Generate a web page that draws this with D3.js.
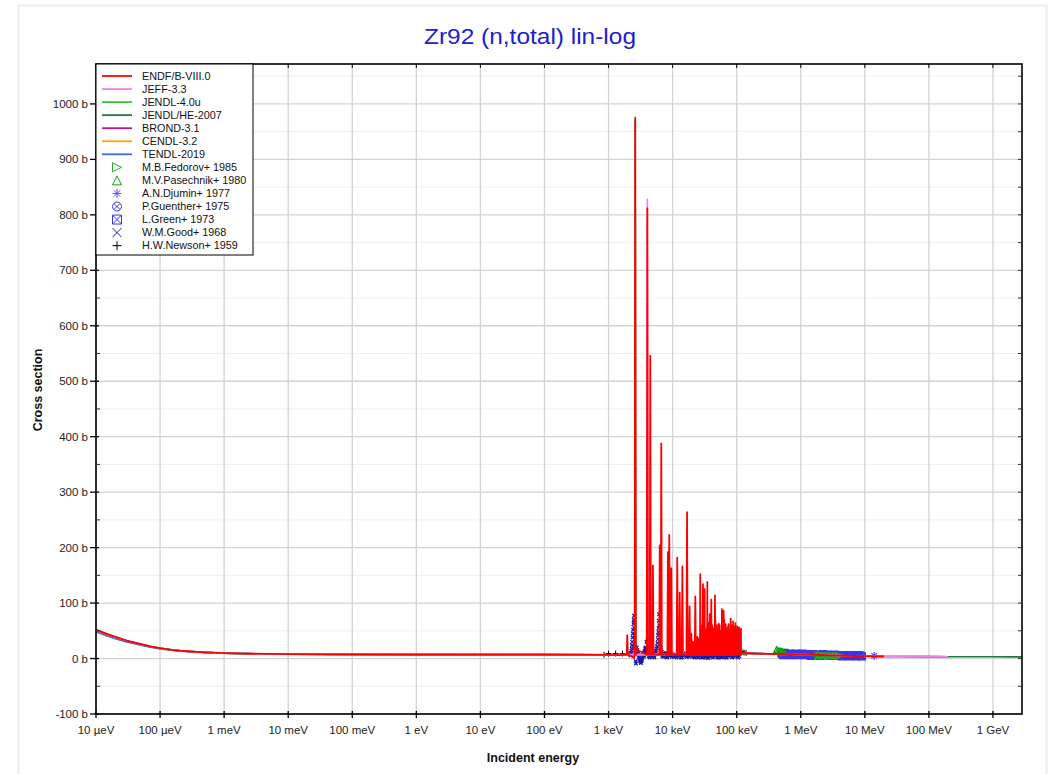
<!DOCTYPE html>
<html><head><meta charset="utf-8">
<script src="https://cdn.jsdelivr.net/npm/d3@7"></script>
<style>
body{margin:0;background:#fff;}
text{font-family:"Liberation Sans",Arial,Helvetica,sans-serif;}
</style>
</head><body>
<svg id="c" width="1053" height="774"></svg>
<script>
// ---------------- DATA ----------------
const chartTitle = "Zr92 (n,total) lin-log";
const xAxisTitle = "Incident energy";
const yAxisTitle = "Cross section";

const xTickValues = [1e-5,1e-4,1e-3,1e-2,1e-1,1,10,100,1e3,1e4,1e5,1e6,1e7,1e8,1e9];
const xTickLabels = ["10 µeV","100 µeV","1 meV","10 meV","100 meV","1 eV","10 eV","100 eV","1 keV","10 keV","100 keV","1 MeV","10 MeV","100 MeV","1 GeV"];
const yTickValues = [-100,0,100,200,300,400,500,600,700,800,900,1000];
const yTickLabels = ["-100 b","0 b","100 b","200 b","300 b","400 b","500 b","600 b","700 b","800 b","900 b","1000 b"];

// low-energy grid (eV) and values (b)
const lowE      = [1e-5,1.5e-5,2e-5,3e-5,5e-5,7e-5,1e-4,1.5e-4,2e-4,3e-4,5e-4,7e-4,1e-3,2e-3,5e-3,1e-2,3e-2,0.1,1,10,100,1000];
const endfLow   = [52,44,39,32.5,26,22,18.6,15.8,14.3,12.7,11.2,10.5,9.9,9.0,8.3,7.9,7.6,7.4,7.2,7.1,7.0,6.6];
const jeffLow   = [52,44,39,32.5,26,22,18.6,15.8,14.3,12.7,11.2,10.5,9.9,9.0,8.3,7.9,7.6,7.4,7.2,7.1,7.0,6.6];
const jendlLow  = [51.5,43.6,38.6,32.2,25.8,21.8,18.5,15.7,14.2,12.6,11.1,10.4,9.8,9.0,8.3,7.9,7.6,7.4,7.2,7.1,7.0,6.6];
const brondLow  = [51.5,43.6,38.6,32.2,25.8,21.8,18.5,15.7,14.2,12.6,11.1,10.4,9.8,9.0,8.3,7.9,7.6,7.4,7.2,7.1,7.0,6.6];
const cendlLow  = [51,43.2,38.3,32,25.6,21.6,18.4,15.6,14.1,12.5,11.1,10.4,9.8,9.0,8.3,7.9,7.6,7.4,7.2,7.1,7.0,6.6];
const tendlLow  = [48,40.5,35.8,30,24.2,20.6,17.4,14.9,13.6,12.1,10.8,10.1,9.6,8.8,8.2,7.8,7.5,7.3,7.1,7.0,6.9,6.5];

// resonance-region background points (eV) for ENDF/B-VIII.0
const midE      = [1500,2300,2500,2720,3000,3500,5500,7500,10500,20000,120000];
const endfMid   = [6.3,4,1,20,14,10,7,9,8,7,9.5];

// resolved resonances (keV) and peak heights (b) for ENDF/B-VIII.0
const resE    = [1.96,2.61,4.03,4.48,4.93,6.30,6.65,8.45,8.87,9.54,11.8,12.9,14.2,16.8,18.4,19.6,20.8,22.6,24.5,25.5,
                 27.0,28.4,29.8,31.6,33.2,34.8,36.3,37.9,40.1,42.8,45.8,47.3,49.1,50.9,52.8,55.6,58.8,60.6,62.6,64.9,
                 67.3,70.1,73.2,76.8,80.5,84.1,87.7,91.4,95.3,98.7,102,105.4,108.9,112.7,116.7,
                 26.2,27.7,30.7,32.4,34.0,35.5,37.1,39.0,41.4,44.2,46.5,48.2,50.0,51.8,54.2,57.2,59.7,61.6,63.8,66.1,
                 68.7,71.6,74.9,78.6,82.3,85.9,89.5,93.3,97.0,100.3,103.7,107.1,110.8,114.7];
const resPeak = [42,972,812,546,168,204,388,192,223,163,182,119,166,264,94,45,30,112,39,35,
                 152,45,134,125,50,138,40,80,106,55,114,48,60,40,62,50,89,45,86,60,
                 62,50,58,45,72,55,67,50,64,45,58,48,56,40,54,
                 30,60,70,40,55,65,45,50,60,40,70,35,55,45,60,40,55,50,70,45,
                 55,48,62,50,60,48,58,50,55,46,52,45,50,42];
const resFloor = 7;

// resonances where other libraries stick out above ENDF (keV, b)
const jeffResE = [4.03], jeffResPeak = [828];
const jendlheResE = [2.61], jendlheResPeak = [976];
const brondResE = [52.0,87.0], brondResPeak = [63,60];

// high-energy grid (eV) and values (b); null = library ends
const highE     = [1.2e5,1.5e5,2e5,3e5,5e5,7e5,1e6,1.5e6,2e6,3e6,5e6,7e6,1e7,1.4e7,2e7,3e7,5e7,1e8,1.5e8,2e8,3e8,5e8,1e9,2e9,2.84e9];
const endfHigh  = [9.5,9.5,9,8.5,8.2,7.8,7.3,6.8,6.4,5.8,5.0,4.6,4.2,4.0,3.8,null,null,null,null,null,null,null,null,null,null];
const jeffHigh  = [9.5,9.5,9,8.5,8.2,7.8,7.3,6.8,6.4,5.8,5.0,4.6,4.2,4.0,3.8,3.7,3.6,3.5,3.4,3.3,null,null,null,null,null];
const jendlHigh = [9.4,9.4,9,8.5,8.1,7.7,7.2,6.7,6.3,5.7,4.9,4.5,4.2,4.0,3.8,null,null,null,null,null,null,null,null,null,null];
const jendlheHigh=[9.4,9.4,9,8.5,8.1,7.7,7.2,6.7,6.3,5.7,4.9,4.5,4.2,4.0,3.8,3.7,3.6,3.5,3.4,3.3,3.3,3.2,3.1,3.0,3.0];
const brondHigh = [9.6,9.6,9.1,8.6,8.2,7.8,7.3,6.8,6.4,5.8,5.0,4.6,4.2,4.0,3.8,null,null,null,null,null,null,null,null,null,null];
const cendlHigh = [9.5,9.5,9,8.5,8.2,7.8,7.3,6.8,6.4,5.8,5.0,4.6,4.2,4.0,3.8,null,null,null,null,null,null,null,null,null,null];
const tendlHigh = [9.3,9.3,8.9,8.4,8.0,7.6,7.1,6.6,6.2,5.6,4.9,4.5,4.1,3.9,3.7,3.6,3.5,3.4,3.3,3.2,null,null,null,null,null];

// experimental data
const fedorovE  = [1.85e6,1.95e6,2.05e6,2.15e6,2.25e6,2.35e6,2.5e6,2.65e6,2.8e6,2.95e6,3.1e6,3.3e6,3.5e6,3.7e6,3.9e6,4.05e6];
const fedorovXS = [5,6,4.5,5.5,4,5,6,4.5,5,4,5.5,4.8,5.2,4.2,5.5,4.8];
const pasechE   = [4.2e5,4.4e5,4.6e5,4.8e5,5.0e5,5.2e5,5.5e5];
const pasechXS  = [16,14.5,13.5,13,12.5,12,11.5];
const djuminE   = [1.4e7];
const djuminXS  = [4.8];
const guentherE = [5.5e5,6.5e5,7.5e5,8.5e5,1e6,1.15e6,1.3e6,1.5e6,1.7e6,2e6,2.3e6,2.6e6,3e6,3.5e6,4e6];
const guentherXS= [9,8,8.5,7.5,7,8,6.8,7.5,6.5,6,7,6.5,5.8,6,5.5];
const greenE    = [5e5,5.3e5,5.6e5,6e5,6.3e5,6.7e5,7e5,7.5e5,8e5,8.5e5,9e5,9.5e5,1e6,1.07e6,1.15e6,1.25e6,1.35e6,1.45e6,1.55e6,1.7e6,1.85e6,2e6,2.2e6,2.4e6,2.6e6,2.85e6,3.1e6,3.4e6,3.7e6,4e6,4.4e6,4.8e6,5.2e6,5.7e6,6.2e6,6.8e6,7.4e6,8e6,8.5e6,9e6];
const greenXS   = [9,6,10,7,8,9,6,8,7,9,6,8,7,9,6,8,7,5,8,6,7,5,8,6,7,5,6,7,5,6,4,6,5,4,6,5,4,6,5,4];
const goodE     = [2.22,2.25,2.28,2.3,2.32,2.35,2.37,2.4,2.42,2.45,2.47,2.5,2.51,2.52,2.54,2.55,2.57,2.58,2.6,2.65,
                   2.68,2.7,2.75,2.8,2.85,2.9,2.95,3.0,3.05,3.1,3.15,3.2,3.25,3.3,3.35,3.4,3.45,3.5,3.55,3.6,
                   3.65,3.7,3.75,3.8,3.85,3.9,3.95,4.05,4.1,4.15,4.2,4.25,4.3,4.4,4.6,4.7,4.8,5.0,5.1,5.2,
                   5.3,5.4,5.5,5.6,5.7,5.8,5.9,5.95,6.0,6.05,6.1,6.15,6.2,6.25,6.35,6.5,6.6,6.8,6.9,7.0,
                   7.15,7.3,7.45,7.6,7.8,8.0,8.15,8.3,8.6,9.0,9.3,9.7,10,10.5,11,11.5,12,12.5,13,13.5,
                   14,14.5,15,16,16.5,17,18,19,20,21,22,23,24,25,26,27,28,29,30,31.5,
                   33,34.5,36,38,40,42,44,46,48,50,52,54,56,58,60,62,65,68,70,75,
                   80,85,90,95,100,105,110].map(v=>v*1e3);
const goodXS    = [6,10,14,18,24,30,38,45,52,62,70,77,66,55,42,35,26,20,10,-5,
                   -9,12,20,15,10,8,5,2,-2,-4,-6,-8,-5,-3,0,4,7,10,3,6,
                   12,14,18,20,16,30,12,34,8,18,12,4,5,2,6,3,10,7,4,2,
                   8,11,14,18,22,28,35,42,48,55,68,80,60,45,30,20,10,12,5,6,
                   3,10,6,4,9,8,2,3,6,5,10,3,6,3,8,2,4,6,7,2,
                   2,5,6,9,3,4,3,5,6,3,2,4,5,2,3,5,6,2,2,4,
                   4,2,1,4,5,2,3,5,6,2,2,4,5,2,3,5,4,2,2,4,
                   5,2,3,5,6,2,4];
const newsonE   = [8.5e2,1.0e3,1.29e3,1.65e3,2.1e3,1.12e5,1.2e5,1.3e5,1.4e5];
const newsonXS  = [7,9,9,9,8,12,13,11,10];

const libNames  = ["ENDF/B-VIII.0","JEFF-3.3","JENDL-4.0u","JENDL/HE-2007","BROND-3.1","CENDL-3.2","TENDL-2019"];
const libColors = ["#ff0000","#ee82ee","#33cc33","#1e7a3a","#c0168f","#ffa500","#4169e1"];
const expNames  = ["M.B.Fedorov+ 1985","M.V.Pasechnik+ 1980","A.N.Djumin+ 1977","P.Guenther+ 1975","L.Green+ 1973","W.M.Good+ 1968","H.W.Newson+ 1959"];
const expColors = ["#22aa22","#11a011","#5050ff","#3a3ae0","#3535f0","#1a1aa5","#000000"];
const expShapes = ["rtri","tri","ast","circx","boxx","x","plus"];

// ---------------- DRAWING ----------------
const svg = d3.select("#c");
const L=96, R=1022, T=64, B=714;
const x = d3.scaleLog().domain([1e-5, 2.84e9]).range([L, R]);
const y = d3.scaleLinear().domain([-100, 1072]).range([B, T]);

// page frame
svg.append("rect").attr("x",18.5).attr("y",5.5).attr("width",1028).attr("height",800)
  .attr("fill","none").attr("stroke","#ececec").attr("stroke-width",2);

// title
svg.append("text").attr("x",530).attr("y",44).attr("text-anchor","middle")
  .attr("font-size",22).attr("fill","#2020cc").attr("textLength",212).attr("lengthAdjust","spacingAndGlyphs").text(chartTitle);

// grid
const grid = svg.append("g");
const minorY = d3.range(-50, 1072, 100);
grid.selectAll(".ym").data(minorY).enter().append("line")
  .attr("x1",L).attr("x2",R).attr("y1",d=>y(d)).attr("y2",d=>y(d))
  .attr("stroke","#efefef").attr("stroke-width",1);
grid.selectAll(".yM").data(yTickValues).enter().append("line")
  .attr("x1",L).attr("x2",R).attr("y1",d=>y(d)).attr("y2",d=>y(d))
  .attr("stroke","#d3d3d3").attr("stroke-width",1.3);
grid.selectAll(".xM").data(xTickValues).enter().append("line")
  .attr("x1",d=>x(d)).attr("x2",d=>x(d)).attr("y1",T).attr("y2",B)
  .attr("stroke","#d3d3d3").attr("stroke-width",1.3);

// clip
svg.append("clipPath").attr("id","clip").append("rect").attr("x",L).attr("y",T).attr("width",R-L).attr("height",B-T);
const plot = svg.append("g").attr("clip-path","url(#clip)");

// markers
function marker(g, shape, cx, cy, s, color, sw){
  const h = s/2;
  const st = {stroke:color, "stroke-width":sw||1, fill:"none"};
  function P(d){ const p=g.append("path").attr("d",d); for(const k in st) p.attr(k,st[k]); return p; }
  if(shape==="rtri") P(`M${cx-h},${cy-h}L${cx+h},${cy}L${cx-h},${cy+h}Z`);
  else if(shape==="tri") P(`M${cx},${cy-h}L${cx+h},${cy+h}L${cx-h},${cy+h}Z`);
  else if(shape==="ast") P(`M${cx-h},${cy}H${cx+h}M${cx},${cy-h}V${cy+h}M${cx-h*0.7},${cy-h*0.7}L${cx+h*0.7},${cy+h*0.7}M${cx-h*0.7},${cy+h*0.7}L${cx+h*0.7},${cy-h*0.7}`);
  else if(shape==="circx"){ P(`M${cx+h},${cy}A${h},${h} 0 1 1 ${cx-h},${cy}A${h},${h} 0 1 1 ${cx+h},${cy}`); P(`M${cx-h*0.7},${cy-h*0.7}L${cx+h*0.7},${cy+h*0.7}M${cx-h*0.7},${cy+h*0.7}L${cx+h*0.7},${cy-h*0.7}`); }
  else if(shape==="boxx") P(`M${cx-h},${cy-h}H${cx+h}V${cy+h}H${cx-h}ZM${cx-h},${cy-h}L${cx+h},${cy+h}M${cx-h},${cy+h}L${cx+h},${cy-h}`);
  else if(shape==="x") P(`M${cx-h},${cy-h}L${cx+h},${cy+h}M${cx-h},${cy+h}L${cx+h},${cy-h}`);
  else if(shape==="plus") P(`M${cx-h},${cy}H${cx+h}M${cx},${cy-h}V${cy+h}`);
}

// experimental points (under evaluations)
const expSets = [
  [fedorovE,fedorovXS],[pasechE,pasechXS],[djuminE,djuminXS],[guentherE,guentherXS],
  [greenE,greenXS],[goodE,goodXS],[newsonE,newsonXS]];
const expSizes = [6,6,8,7,7,3.5,6];
const expWidths = [1.2,1.2,1.2,1.3,1.3,1.3,1];
const expG = plot.append("g");
for(let k=expSets.length-1;k>=0;k--){
  const [E,S] = expSets[k];
  E.forEach((e,i)=>marker(expG, expShapes[k], x(e), y(S[i]), expSizes[k], expColors[k], expWidths[k]));
}

// build series
function series(E, S){ return E.map((e,i)=>[e,S[i]]); }
function spikes(Ek, P, floor){
  const w = 1.02, out=[];
  Ek.forEach((ek,i)=>{ const e=ek*1e3; out.push([e/w,floor],[e,P[i]],[e*w,floor]); });
  return out;
}
function merge(...parts){ return [].concat(...parts).sort((a,b)=>a[0]-b[0]); }

const line = d3.line().defined(d=>d[1]!=null).x(d=>x(d[0])).y(d=>y(d[1]));

const libData = [
  merge(series(lowE,endfLow), series(midE,endfMid), spikes(resE,resPeak,resFloor), series(highE,endfHigh)),
  merge(series(lowE,jeffLow), spikes(jeffResE,jeffResPeak,resFloor), series(highE,jeffHigh)),
  merge(series(lowE,jendlLow), series(highE,jendlHigh)),
  merge(series(lowE,jendlLow), spikes(jendlheResE,jendlheResPeak,resFloor), series(highE,jendlheHigh)),
  merge(series(lowE,brondLow), spikes(brondResE,brondResPeak,resFloor), series(highE,brondHigh)),
  merge(series(lowE,cendlLow), series(highE,cendlHigh)),
  merge(series(lowE,tendlLow), series(highE,tendlHigh))
];
for(let k=libData.length-1;k>=0;k--){
  plot.append("path").attr("d",line(libData[k])).attr("fill","none")
    .attr("stroke",libColors[k]).attr("stroke-width",k===0?1.8:1.6).attr("stroke-linejoin","round");
}

// axes frame
svg.append("rect").attr("x",L).attr("y",T).attr("width",R-L).attr("height",B-T)
  .attr("fill","none").attr("stroke","#000").attr("stroke-width",1.6);

const ax = svg.append("g").attr("font-size",11.5).attr("fill","#222");
// bottom ticks & labels
xTickValues.forEach((v,i)=>{
  ax.append("line").attr("x1",x(v)).attr("x2",x(v)).attr("y1",B-3).attr("y2",B+4).attr("stroke","#000").attr("stroke-width",1.3);
  ax.append("line").attr("x1",x(v)).attr("x2",x(v)).attr("y1",T).attr("y2",T+4).attr("stroke","#000").attr("stroke-width",1);
  ax.append("text").attr("x",x(v)).attr("y",B+20).attr("text-anchor","middle").text(xTickLabels[i]);
});
// left ticks & labels
yTickValues.forEach((v,i)=>{
  ax.append("line").attr("x1",L-6).attr("x2",L+3).attr("y1",y(v)).attr("y2",y(v)).attr("stroke","#000").attr("stroke-width",1.3);
  ax.append("line").attr("x1",R-4).attr("x2",R).attr("y1",y(v)).attr("y2",y(v)).attr("stroke","#333").attr("stroke-width",1);
  ax.append("text").attr("x",L-8).attr("y",y(v)+4).attr("text-anchor","end").text(yTickLabels[i]);
});
minorY.forEach(v=>{
  ax.append("line").attr("x1",L).attr("x2",L+4).attr("y1",y(v)).attr("y2",y(v)).attr("stroke","#333").attr("stroke-width",1);
  ax.append("line").attr("x1",R-4).attr("x2",R).attr("y1",y(v)).attr("y2",y(v)).attr("stroke","#333").attr("stroke-width",1);
});

// axis titles
svg.append("text").attr("x",533).attr("y",762).attr("text-anchor","middle")
  .attr("font-size",12.5).attr("font-weight","bold").attr("fill","#111").text(xAxisTitle);
svg.append("text").attr("transform","translate(42,390) rotate(-90)").attr("text-anchor","middle")
  .attr("font-size",12.5).attr("font-weight","bold").attr("fill","#111").text(yAxisTitle);

// legend
const lg = svg.append("g");
lg.append("rect").attr("x",L).attr("y",T).attr("width",157).attr("height",191)
  .attr("fill","#fff").attr("stroke","#000").attr("stroke-width",1);
const rowY = i => 76 + i*13.05;
libNames.forEach((n,i)=>{
  lg.append("line").attr("x1",102).attr("x2",132).attr("y1",rowY(i)).attr("y2",rowY(i))
    .attr("stroke",libColors[i]).attr("stroke-width",1.8);
  lg.append("text").attr("x",142).attr("y",rowY(i)+3.8).attr("font-size",10.8).attr("fill","#111").text(n);
});
expNames.forEach((n,j)=>{
  const i = j + libNames.length;
  marker(lg, expShapes[j], 117, rowY(i), 9, expColors[j], 1);
  lg.append("text").attr("x",142).attr("y",rowY(i)+3.8).attr("font-size",10.8).attr("fill","#111").text(n);
});
</script>
</body></html>
